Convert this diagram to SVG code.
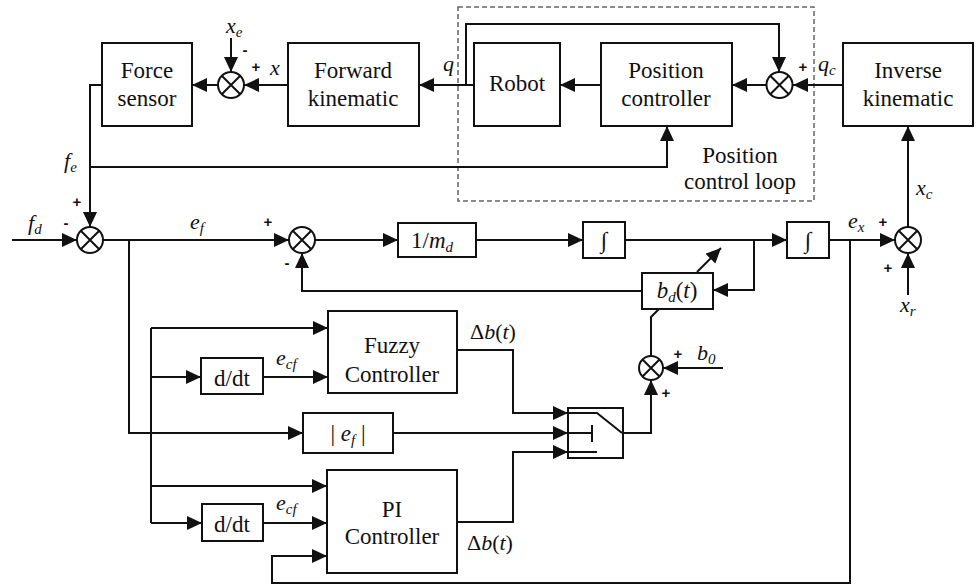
<svg xmlns="http://www.w3.org/2000/svg" width="976" height="588" viewBox="0 0 976 588" font-family="'Liberation Serif','Times New Roman',Times,'DejaVu Serif',serif">
<defs>
<marker id="ah" markerUnits="userSpaceOnUse" markerWidth="16" markerHeight="16" refX="15" refY="7" orient="auto"><path d="M0,0 L15,7 L0,14 z" fill="#111"/></marker>
<style>
.b{fill:#fff;stroke:#111;stroke-width:2}
.c{fill:none;stroke:#111;stroke-width:2}
.a{marker-end:url(#ah)}
.t{font-family:'Liberation Serif','Times New Roman',Times,'DejaVu Serif',serif;font-size:23px;fill:#111;text-anchor:middle}
.i{font-family:'Liberation Serif','Times New Roman',Times,'DejaVu Serif',serif;font-style:italic;font-size:22px;fill:#111}
.s{font-size:15px}
.p{font-family:'Liberation Sans',Arial,sans-serif;font-size:15px;font-weight:bold;fill:#111;text-anchor:middle}
.d{fill:none;stroke:#666;stroke-width:1.5;stroke-dasharray:5,3}
</style>
</defs>
<rect width="976" height="588" fill="#fff"/>
<rect class="d" x="458" y="7" width="356" height="194"/>
<g id="connectors">
<path class="c a" d="M102,85 H90 V227"/>
<path class="c a" d="M231,38 V72"/>
<path class="c a" d="M288,85 H244"/>
<path class="c a" d="M218,85 H192"/>
<path class="c a" d="M474,85 H419"/>
<path class="c a" d="M466,85 V24 H779 V72"/>
<path class="c a" d="M601,85 H560"/>
<path class="c a" d="M766,85 H732"/>
<path class="c a" d="M843,85 H793"/>
<path class="c a" d="M90,167 H667 V126"/>
<path class="c a" d="M12,240 H77"/>
<path class="c a" d="M103,240 H289"/>
<path class="c a" d="M315,240 H398"/>
<path class="c a" d="M476,240 H583"/>
<path class="c a" d="M625,240 H787"/>
<path class="c a" d="M754,240 V290 H713"/>
<path class="c a" d="M642,291 H302 V253"/>
<path class="c a" d="M829,240 H895"/>
<path class="c a" d="M908,295 V253"/>
<path class="c a" d="M908,227 V126"/>
<path class="c a" d="M850,240 V583 H272 V556 H327"/>
<path class="c a" d="M129,240 V433 H303"/>
<path class="c a" d="M393,433 H568"/>
<path class="c a" d="M457,350 H513 V413 H568"/>
<path class="c a" d="M457,522 H513 V452 H568"/>
<path class="c a" d="M623,433 H651 V380"/>
<path class="c a" d="M723,368 H663"/>
<path class="c" d="M651,356 V317 L659,309"/>
<path class="c a" d="M697,272 L721,248"/>
<path class="c" d="M151,328 V523"/>
<path class="c a" d="M151,328 H328"/>
<path class="c a" d="M151,377 H201"/>
<path class="c a" d="M263,377 H328"/>
<path class="c a" d="M151,486 H327"/>
<path class="c a" d="M151,523 H202"/>
<path class="c a" d="M263,523 H327"/>
</g>
<g id="force-sensor"><rect class="b" x="102" y="43" width="90" height="83"/><text class="t" x="147" y="78">Force</text><text class="t" x="147" y="106">sensor</text></g>
<g id="sum-xe"><circle class="b" cx="231" cy="85" r="13"/><path class="c" d="M222,76 L240,94 M240,76 L222,94"/></g>
<g id="forward-kinematic"><rect class="b" x="288" y="43" width="131" height="83"/><text class="t" x="353" y="78">Forward</text><text class="t" x="353" y="106">kinematic</text></g>
<g id="robot"><rect class="b" x="474" y="43" width="86" height="83"/><text class="t" x="517" y="91">Robot</text></g>
<g id="position-controller"><rect class="b" x="601" y="43" width="131" height="83"/><text class="t" x="666" y="78">Position</text><text class="t" x="666" y="106">controller</text></g>
<g id="sum-q"><circle class="b" cx="779.5" cy="85" r="13"/><path class="c" d="M770.5,76 L788.5,94 M788.5,76 L770.5,94"/></g>
<g id="inverse-kinematic"><rect class="b" x="843" y="43" width="130" height="83"/><text class="t" x="908" y="78">Inverse</text><text class="t" x="908" y="106">kinematic</text></g>
<g id="loop-label"><text class="t" x="740" y="163">Position</text><text class="t" x="740" y="189">control loop</text></g>
<g id="sum-f"><circle class="b" cx="90" cy="240" r="13"/><path class="c" d="M81,231 L99,249 M99,231 L81,249"/></g>
<g id="sum-e"><circle class="b" cx="302" cy="240" r="13"/><path class="c" d="M293,231 L311,249 M311,231 L293,249"/></g>
<g id="inv-md"><rect class="b" x="398" y="223" width="78" height="34"/><text class="t" x="432" y="248">1/<tspan font-style="italic">m</tspan><tspan font-style="italic" font-size="15" dy="4">d</tspan></text></g>
<g id="int1"><rect class="b" x="583" y="222" width="42" height="36"/><text class="t" x="604" y="248" font-size="20">∫</text></g>
<g id="int2"><rect class="b" x="787" y="222" width="42" height="36"/><text class="t" x="808" y="248" font-size="20">∫</text></g>
<g id="bd"><rect class="b" x="642" y="273" width="71" height="36"/><text class="t" x="677" y="298"><tspan font-style="italic">b</tspan><tspan font-style="italic" font-size="15" dy="4">d</tspan><tspan dy="-4">(</tspan><tspan font-style="italic">t</tspan>)</text></g>
<g id="sum-x"><circle class="b" cx="908" cy="240" r="13"/><path class="c" d="M899,231 L917,249 M917,231 L899,249"/></g>
<g id="sum-b"><circle class="b" cx="651" cy="368" r="12"/><path class="c" d="M642.5,359.5 L659.5,376.5 M659.5,359.5 L642.5,376.5"/></g>
<g id="fuzzy"><rect class="b" x="328" y="311" width="129" height="82"/><text class="t" x="392" y="353">Fuzzy</text><text class="t" x="392" y="382">Controller</text></g>
<g id="ddt1"><rect class="b" x="201" y="358" width="62" height="36"/><text class="t" x="232" y="386">d/dt</text></g>
<g id="abs-ef"><rect class="b" x="303" y="413" width="90" height="40"/><text class="t" x="348" y="441">| <tspan font-style="italic">e</tspan><tspan font-style="italic" font-size="15" dy="4">f</tspan><tspan dy="-4"> |</tspan></text></g>
<g id="switch"><rect class="b" x="568" y="408" width="55" height="50"/><path class="c" d="M568,413 H597 L622,433 M568,433 H592 M592,425 V442 M568,452 H597"/></g>
<g id="pi"><rect class="b" x="327" y="470" width="130" height="103"/><text class="t" x="392" y="517">PI</text><text class="t" x="392" y="544">Controller</text></g>
<g id="ddt2"><rect class="b" x="202" y="504" width="61" height="37"/><text class="t" x="232" y="532">d/dt</text></g>
<g id="labels">
<text class="i" x="226" y="33">x<tspan class="s" dy="4">e</tspan></text>
<text class="p" x="245" y="55">-</text>
<text class="p" x="256" y="72">+</text>
<text class="i" x="270" y="75">x</text>
<text class="i" x="443" y="71">q</text>
<text class="p" x="803" y="72">+</text>
<text class="i" x="818" y="71">q<tspan class="s" dy="4">c</tspan></text>
<text class="i" x="64" y="168">f<tspan class="s" dy="4">e</tspan></text>
<text class="p" x="77" y="207">+</text>
<text class="i" x="28" y="230">f<tspan class="s" dy="4">d</tspan></text>
<text class="p" x="66" y="228">-</text>
<text class="i" x="190" y="229">e<tspan class="s" dy="4">f</tspan></text>
<text class="p" x="268" y="227">+</text>
<text class="p" x="287" y="268">-</text>
<text class="i" x="848" y="228">e<tspan class="s" dy="4">x</tspan></text>
<text class="p" x="883" y="227">+</text>
<text class="p" x="888" y="273">+</text>
<text class="i" x="900" y="312">x<tspan class="s" dy="4">r</tspan></text>
<text class="i" x="916" y="195">x<tspan class="s" dy="4">c</tspan></text>
<text class="i" x="470" y="339"><tspan font-style="normal">Δ</tspan>b<tspan font-style="normal">(</tspan>t<tspan font-style="normal">)</tspan></text>
<text class="p" x="678" y="359">+</text>
<text class="i" x="697" y="360">b<tspan class="s" dy="4">0</tspan></text>
<text class="p" x="666" y="398">+</text>
<text class="i" x="467" y="550"><tspan font-style="normal">Δ</tspan>b<tspan font-style="normal">(</tspan>t<tspan font-style="normal">)</tspan></text>
<text class="i" x="276" y="365">e<tspan class="s" dy="4">cf</tspan></text>
<text class="i" x="276" y="510">e<tspan class="s" dy="4">cf</tspan></text>
</g>
</svg>
